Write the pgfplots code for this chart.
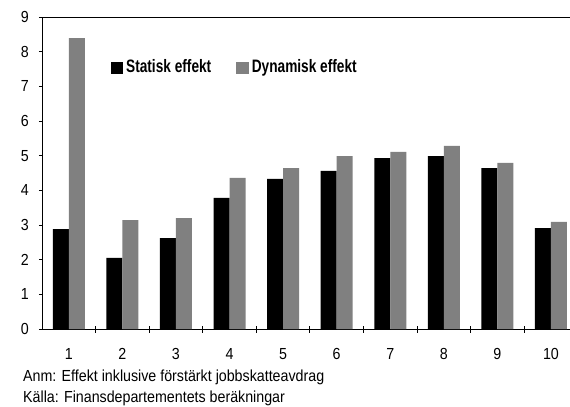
\documentclass[border=0pt]{standalone}
\usepackage{fontspec}
\setmainfont{Liberation Sans}[FakeStretch=0.89]
\newfontfamily\legendfamily{Liberation Sans}[FakeStretch=0.76]
\usepackage{pgfplots}
\pgfplotsset{compat=1.18}
\newcommand{\chartfont}{\fontsize{16bp}{18bp}\selectfont}
\newcommand{\legendfont}{\legendfamily\bfseries\fontsize{18bp}{20bp}\selectfont}
\definecolor{dyngray}{HTML}{808080}
\begin{document}
\begin{tikzpicture}
\begin{axis}[
    scale only axis,
    width=528bp, height=312bp,
    xmin=0.5, xmax=10.355,
    ymin=0, ymax=9,
    axis x line=bottom, axis y line=left,
    axis line style={-, line width=0.9bp},
    tick align=outside,
    ytick={0,...,9},
    major tick length=3bp,
    xtick={1,...,10},
    major x tick style={draw=none},
    minor xtick={1.5,2.5,...,9.5},
    minor tick length=7bp,
    minor x tick style={yshift=3.5bp, line width=0.9bp, black},
    major y tick style={line width=0.9bp, black},
    /pgf/number format/assume math mode=true,
    tick label style={font=\chartfont},
    yticklabel style={xshift=-6.7bp},
    xticklabel style={yshift=-13bp},
    ybar, bar width=16bp,
    legend style={draw=none, fill=none, at={(0.124,0.84)}, anchor=west,
        legend columns=2, font=\legendfont,
        nodes={inner sep=0pt},
        /tikz/every odd column/.append style={column sep=3bp},
        /tikz/every even column/.append style={column sep=25bp}},
]
\addplot[draw=none, fill=black, bar shift=-8bp,
    legend image code/.code={\fill[black] (0bp,-7bp) rectangle (12.5bp,5bp);}]
    coordinates {(1,2.88) (2,2.05) (3,2.62) (4,3.78) (5,4.33)
                 (6,4.56) (7,4.93) (8,4.99) (9,4.64) (10,2.91)};
\addlegendentry{Statisk effekt}
\addplot[draw=none, fill=dyngray, bar shift=8bp,
    legend image code/.code={\fill[dyngray] (0bp,-7bp) rectangle (12.5bp,5bp);}]
    coordinates {(1,8.39) (2,3.14) (3,3.20) (4,4.36) (5,4.64)
                 (6,4.99) (7,5.11) (8,5.28) (9,4.79) (10,3.09)};
\addlegendentry{Dynamisk effekt}
\draw[line width=0.9bp] (rel axis cs:0,1) -- (rel axis cs:1,1);
\end{axis}
\node[anchor=base west, inner sep=0pt, font=\chartfont]
    at ([xshift=-19bp,yshift=-52bp]current axis.south west)
    {Anm: Effekt inklusive förstärkt jobbskatteavdrag};
\node[anchor=base west, inner sep=0pt, font=\chartfont]
    at ([xshift=-19bp,yshift=-73bp]current axis.south west)
    {Källa: Finansdepartementets beräkningar};
\pgfresetboundingbox
\path ([xshift=-42bp,yshift=-78bp]current axis.south west)
    rectangle ([yshift=17bp]current axis.north east);
\end{tikzpicture}
\end{document}
